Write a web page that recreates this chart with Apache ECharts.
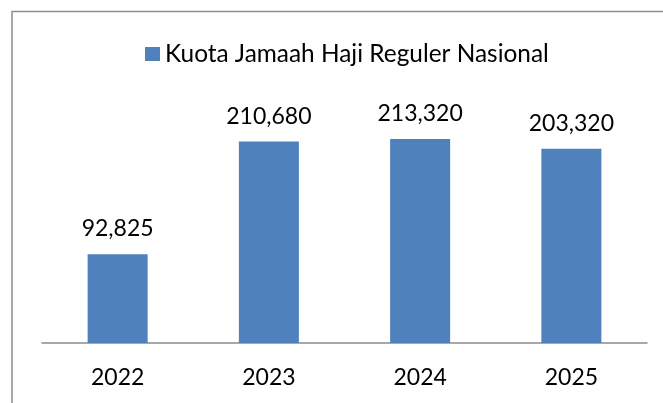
<!DOCTYPE html>
<html>
<head>
<meta charset="utf-8">
<script src="https://cdn.jsdelivr.net/npm/echarts@6/dist/echarts.min.js"></script>
<style>
    html, body { margin: 0; padding: 0; background: #fff; }
    #chart { width: 663px; height: 403px; }
</style>
</head>
<body>
<div id="chart"></div>
<script>
const years = ['2022', '2023', '2024', '2025'];
const kuota = [92825, 210680, 213320, 203320];
const seriesName = 'Kuota Jamaah Haji Reguler Nasional';

const chart = echarts.init(document.getElementById('chart'));

const fmt = v => v.toLocaleString('en-US');

chart.setOption({
    animation: false,
    textStyle: { fontFamily: 'Lato' },
    // chart frame (cut off on the right and bottom)
    graphic: [
        {
            type: 'polyline',
            shape: { points: [[12, 403], [12, 11.5], [663, 11.5]] },
            style: { stroke: '#8c8c8c', lineWidth: 1.5, fill: null }
        }
    ],
    legend: {
        data: [seriesName],
        icon: 'rect',
        left: 140,
        top: 37,
        itemWidth: 15,
        itemHeight: 14,
        itemGap: 6,
        textStyle: { fontSize: 24.4, color: '#000', fontFamily: 'Lato' }
    },
    grid: {
        left: 42,
        right: 16,
        top: 104,
        bottom: 60
    },
    xAxis: {
        type: 'category',
        data: years,
        axisLine: { lineStyle: { color: '#8c8c8c', width: 1.5 } },
        axisTick: { show: false },
        axisLabel: { color: '#000', fontSize: 23, margin: 23 }
    },
    yAxis: {
        type: 'value',
        min: 0,
        max: 250000,
        show: false,
        splitLine: { show: false }
    },
    series: [
        {
            name: seriesName,
            type: 'bar',
            data: kuota,
            barWidth: 60,
            itemStyle: { color: '#4f81bd' },
            label: {
                show: true,
                position: 'top',
                distance: 14,
                color: '#000',
                fontSize: 23,
                formatter: p => fmt(p.value)
            }
        }
    ]
});
</script>
</body>
</html>
